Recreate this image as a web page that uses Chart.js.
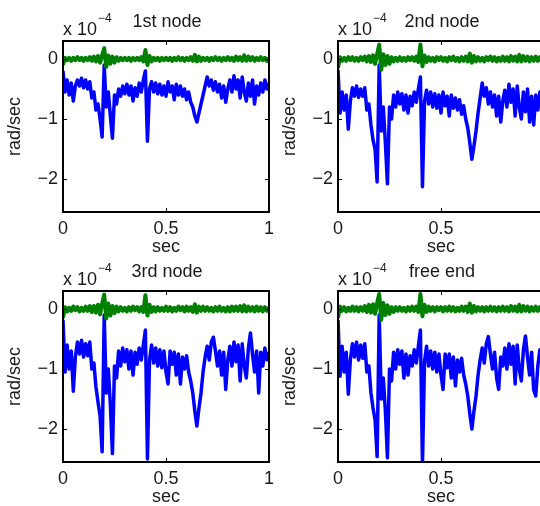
<!DOCTYPE html>
<html>
<head>
<meta charset="utf-8">
<script src="https://cdn.jsdelivr.net/npm/chart.js@4.4.1/dist/chart.umd.min.js"></script>
<style>
  html, body { margin: 0; padding: 0; background: #fff; overflow: hidden; width: 540px; height: 506px; }
  .panel { position: absolute; }
</style>
</head>
<body>
<div class="panel" style="left:0;top:0"><canvas id="chart1" width="280" height="258"></canvas></div>
<div class="panel" style="left:275px;top:0"><canvas id="chart2" width="280" height="258"></canvas></div>
<div class="panel" style="left:0;top:250px"><canvas id="chart3" width="280" height="258"></canvas></div>
<div class="panel" style="left:275px;top:250px"><canvas id="chart4" width="280" height="258"></canvas></div>
<script>
// tick positions of every panel
const xTicks = [0, 0.5, 1];
const yTicks = [-2, -1, 0];

// sample times, 0 .. 1 sec
const times = Array.from({ length: 101 }, (_, i) => i / 100);

// blue traces (x 10^-4 rad/sec)
const blueNode1 = [
  -0.20, -0.55, -0.35, -0.60, -0.40, -0.70, -0.45, -0.35, -0.45, -0.32,
  -0.48, -0.35, -0.50, -0.38, -0.65, -0.55, -0.85, -0.75, -1.00, -1.30,
  -0.10, -0.80, -0.55, -0.95, -1.32, -0.60, -0.75, -0.50, -0.62, -0.45,
  -0.58, -0.42, -0.60, -0.45, -0.70, -0.48, -0.62, -0.40, -0.55, -0.35,
  -0.20, -1.37, -0.50, -0.38, -0.55, -0.40, -0.58, -0.42, -0.60, -0.45,
  -0.62, -0.38, -0.55, -0.45, -0.68, -0.42, -0.60, -0.45, -0.62, -0.50,
  -0.68, -0.55, -0.72, -0.80, -0.95, -1.05, -0.90, -0.75, -0.60, -0.45,
  -0.30, -0.45, -0.35, -0.52, -0.38, -0.55, -0.42, -0.65, -0.45, -0.72,
  -0.50, -0.35, -0.55, -0.28, -0.50, -0.35, -0.65, -0.30, -0.55, -0.70,
  -0.40, -0.62, -0.35, -0.75, -0.45, -0.60, -0.40, -0.55, -0.35, -0.50,
  -0.40
];
const blueNode2 = [
  -0.18, -0.90, -0.55, -0.85, -0.60, -1.17, -0.70, -0.48, -0.62, -0.45,
  -0.64, -0.50, -0.62, -0.48, -0.85, -0.75, -1.10, -1.35, -1.50, -2.05,
  -0.10, -1.20, -0.80, -1.40, -2.08, -0.80, -1.00, -0.60, -0.80, -0.55,
  -0.75, -0.58, -0.85, -0.60, -0.90, -0.62, -0.78, -0.55, -0.72, -0.50,
  -0.30, -2.13, -0.70, -0.52, -0.75, -0.55, -0.80, -0.58, -0.82, -0.60,
  -0.90, -0.55, -0.78, -0.62, -0.95, -0.60, -0.82, -0.65, -0.85, -0.68,
  -0.92, -0.78, -1.00, -1.15, -1.40, -1.67, -1.45, -1.20, -0.90, -0.65,
  -0.40, -0.62, -0.48, -0.75, -0.55, -0.80, -0.60, -0.95, -0.62, -1.05,
  -0.70, -0.52, -0.80, -0.42, -0.72, -0.50, -0.95, -0.45, -0.80, -1.00,
  -0.55, -0.88, -0.50, -1.05, -0.62, -1.10, -0.60, -0.85, -0.55, -0.78,
  -0.62
];
const blueNode3 = [
  -0.18, -1.05, -0.60, -1.00, -0.70, -1.37, -0.80, -0.55, -0.75, -0.52,
  -0.80, -0.58, -0.78, -0.55, -1.00, -0.90, -1.30, -1.55, -1.78, -2.38,
  -0.10, -1.40, -1.00, -1.60, -2.41, -0.95, -1.15, -0.70, -0.95, -0.65,
  -0.88, -0.68, -1.00, -0.70, -1.10, -0.72, -0.92, -0.65, -0.85, -0.60,
  -0.35, -2.50, -0.85, -0.60, -0.90, -0.65, -0.95, -0.68, -0.98, -0.70,
  -1.05, -1.25, -0.70, -0.92, -0.72, -1.10, -0.75, -1.25, -0.80, -1.00,
  -0.78, -1.05, -1.20, -1.40, -1.70, -1.95, -1.65, -1.40, -1.05, -0.80,
  -0.62, -0.85, -0.55, -0.47, -0.70, -0.95, -0.70, -1.10, -0.72, -1.34,
  -0.85, -0.62, -0.95, -0.55, -0.88, -0.60, -1.20, -0.58, -0.95, -1.15,
  -0.65, -0.40, -0.75, -1.05, -0.70, -1.40, -0.72, -0.95, -0.65, -0.85,
  -0.72
];
const blueFreeEnd = [
  -0.18, -1.12, -0.62, -1.05, -0.72, -1.42, -0.85, -0.58, -0.80, -0.55,
  -0.85, -0.60, -0.82, -0.58, -1.05, -0.95, -1.40, -1.65, -1.85, -2.46,
  -0.10, -1.50, -1.15, -1.70, -2.48, -1.00, -1.20, -0.72, -1.00, -0.68,
  -0.92, -0.70, -1.15, -0.75, -1.10, -0.78, -0.95, -0.68, -0.90, -0.62,
  -0.35, -2.60, -0.88, -0.62, -0.95, -0.70, -1.00, -0.72, -1.05, -0.75,
  -1.10, -1.34, -0.75, -0.98, -0.75, -1.15, -0.80, -1.28, -0.85, -1.05,
  -0.82, -1.10, -1.25, -1.45, -1.75, -2.00, -1.70, -1.45, -1.10, -0.85,
  -0.65, -0.90, -0.58, -0.46, -0.75, -1.00, -0.72, -1.15, -1.34, -0.80,
  -0.95, -0.65, -1.00, -0.58, -0.92, -0.62, -1.25, -0.60, -1.00, -1.20,
  -0.68, -0.45, -0.80, -1.10, -0.72, -1.35, -1.45, -0.95, -0.68, -0.90,
  -0.75
];

// green traces
const greenNode1 = [
  -0.10, 0.02, -0.02, 0.02, -0.03, 0.02, -0.02, 0.03, -0.02, 0.02,
  -0.03, 0.02, -0.02, 0.03, -0.03, 0.04, -0.04, 0.05, -0.06, 0.06,
  0.18, -0.13, 0.06, -0.08, 0.04, -0.06, 0.03, -0.03, 0.02, -0.02,
  0.02, -0.02, 0.02, -0.03, 0.02, -0.02, 0.02, -0.02, 0.03, -0.04,
  0.15, -0.10, 0.05, -0.04, 0.02, -0.02, 0.02, -0.03, 0.02, -0.02,
  0.02, -0.02, 0.02, -0.03, 0.02, -0.02, 0.03, -0.02, 0.02, -0.03,
  0.02, -0.02, 0.03, -0.03, 0.07, -0.04, 0.04, -0.03, 0.02, -0.02,
  0.02, -0.03, 0.02, -0.02, 0.03, -0.02, 0.02, -0.03, 0.02, -0.02,
  0.03, -0.02, 0.02, -0.03, 0.04, -0.02, 0.03, -0.03, 0.06, -0.03,
  0.04, -0.02, 0.03, -0.03, 0.02, -0.02, 0.03, -0.02, 0.02, -0.03,
  0.02
];
const greenNode2 = [
  -0.15, 0.03, -0.03, 0.02, -0.03, 0.03, -0.02, 0.03, -0.03, 0.02,
  -0.03, 0.03, -0.02, 0.04, -0.04, 0.05, -0.05, 0.06, -0.08, 0.08,
  0.24, -0.18, 0.08, -0.10, 0.05, -0.08, 0.03, -0.04, 0.02, -0.03,
  0.03, -0.03, 0.02, -0.03, 0.03, -0.02, 0.03, -0.03, 0.04, -0.05,
  0.24, -0.12, 0.06, -0.05, 0.03, -0.03, 0.02, -0.04, 0.03, -0.02,
  0.03, -0.03, 0.02, -0.04, 0.03, -0.02, 0.04, -0.03, 0.02, -0.04,
  0.03, -0.03, 0.04, -0.04, 0.09, -0.06, 0.05, -0.04, 0.03, -0.03,
  0.02, -0.04, 0.03, -0.02, 0.04, -0.03, 0.03, -0.04, 0.02, -0.03,
  0.04, -0.03, 0.03, -0.04, 0.05, -0.03, 0.04, -0.04, 0.07, -0.04,
  0.05, -0.03, 0.04, -0.04, 0.03, -0.03, 0.04, -0.03, 0.03, -0.04,
  0.02
];
const greenNode3 = [
  -0.15, 0.03, -0.04, 0.02, -0.03, 0.04, -0.02, 0.03, -0.04, 0.02,
  -0.03, 0.04, -0.03, 0.05, -0.05, 0.05, -0.06, 0.07, -0.09, 0.09,
  0.24, -0.16, 0.09, -0.11, 0.05, -0.07, 0.04, -0.04, 0.03, -0.03,
  0.02, -0.04, 0.03, -0.03, 0.04, -0.02, 0.03, -0.04, 0.03, -0.05,
  0.23, -0.11, 0.07, -0.05, 0.03, -0.04, 0.03, -0.03, 0.02, -0.03,
  0.04, -0.03, 0.03, -0.04, 0.02, -0.03, 0.04, -0.02, 0.03, -0.04,
  0.04, -0.03, 0.03, -0.05, 0.08, -0.06, 0.04, -0.03, 0.04, -0.03,
  0.03, -0.03, 0.02, -0.04, 0.03, -0.03, 0.04, -0.03, 0.02, -0.04,
  0.03, -0.04, 0.04, -0.03, 0.04, -0.03, 0.05, -0.04, 0.06, -0.04,
  0.04, -0.03, 0.03, -0.04, 0.04, -0.03, 0.03, -0.04, 0.03, -0.03,
  0.03
];
const greenFreeEnd = [
  -0.15, 0.04, -0.03, 0.03, -0.04, 0.02, -0.03, 0.04, -0.03, 0.03,
  -0.04, 0.03, -0.03, 0.05, -0.05, 0.07, -0.06, 0.08, -0.08, 0.10,
  0.25, -0.18, 0.10, -0.10, 0.06, -0.08, 0.03, -0.05, 0.03, -0.03,
  0.03, -0.03, 0.02, -0.04, 0.03, -0.03, 0.04, -0.03, 0.04, -0.05,
  0.25, -0.12, 0.07, -0.05, 0.04, -0.03, 0.03, -0.04, 0.03, -0.02,
  0.03, -0.04, 0.03, -0.03, 0.04, -0.03, 0.03, -0.04, 0.02, -0.03,
  0.04, -0.03, 0.04, -0.05, 0.09, -0.06, 0.05, -0.04, 0.03, -0.03,
  0.03, -0.04, 0.03, -0.03, 0.04, -0.03, 0.03, -0.04, 0.03, -0.03,
  0.04, -0.03, 0.03, -0.04, 0.05, -0.03, 0.04, -0.04, 0.07, -0.04,
  0.05, -0.03, 0.04, -0.04, 0.03, -0.03, 0.04, -0.03, 0.03, -0.04,
  0.02
];

const FONT = '"Liberation Sans", Arial, Helvetica, sans-serif';
const TEXT = '#1a1a1a';
const FS = 18;

// matlab style box, inner ticks, title and the exponent note
const matlabFrame = {
  id: 'matlabFrame',
  afterDraw(chart, args, opts) {
    const ctx = chart.ctx;
    const a = chart.chartArea;
    const xs = chart.scales.x;
    const ys = chart.scales.y;
    ctx.save();
    ctx.strokeStyle = '#000';
    ctx.lineWidth = 1;
    ctx.beginPath();
    xTicks.forEach((v) => {
      const px = Math.round(xs.getPixelForValue(v)) + 0.5;
      ctx.moveTo(px, a.bottom); ctx.lineTo(px, a.bottom - 4);
      ctx.moveTo(px, a.top); ctx.lineTo(px, a.top + 4);
    });
    yTicks.forEach((v) => {
      const py = Math.round(ys.getPixelForValue(v)) + 0.5;
      ctx.moveTo(a.left, py); ctx.lineTo(a.left + 4, py);
      ctx.moveTo(a.right, py); ctx.lineTo(a.right - 4, py);
    });
    ctx.stroke();
    ctx.lineWidth = 2;
    ctx.strokeRect(a.left, a.top, a.right - a.left, a.bottom - a.top);

    ctx.fillStyle = TEXT;
    ctx.font = FS + 'px ' + FONT;
    ctx.textBaseline = 'alphabetic';
    ctx.textAlign = 'center';
    ctx.fillText(opts.title, (a.left + a.right) / 2 + 1, 27);
    ctx.textAlign = 'left';
    ctx.fillText('x 10', a.left, 35);
    const w = ctx.measureText('x 10').width;
    ctx.font = '12px ' + FONT;
    ctx.fillText('\u22124', a.left + w + 1, 22);
    ctx.restore();
  }
};

function minusLabel(v) {
  if (v < 0) return '\u2212' + Math.abs(v);
  return String(v);
}

function drawPanel(canvasId, title, blue, green) {
  const ctx = document.getElementById(canvasId).getContext('2d');
  new Chart(ctx, {
    type: 'line',
    data: {
      datasets: [
        {
          data: green.map((v, i) => ({ x: times[i], y: v })),
          borderColor: 'rgb(0, 128, 0)',
          borderWidth: 4,
          borderJoinStyle: 'round',
          pointRadius: 0,
          tension: 0
        },
        {
          data: blue.map((v, i) => ({ x: times[i], y: v })),
          borderColor: 'rgb(0, 0, 255)',
          borderWidth: 3.5,
          borderJoinStyle: 'round',
          pointRadius: 0,
          tension: 0
        }
      ]
    },
    options: {
      responsive: false,
      animation: false,
      layout: { padding: { top: 41, right: 10, left: 0, bottom: 0 } },
      plugins: {
        legend: { display: false },
        tooltip: { enabled: false },
        matlabFrame: { title: title }
      },
      scales: {
        x: {
          type: 'linear',
          min: 0,
          max: 1,
          grid: { display: false, drawTicks: false },
          border: { display: false },
          afterBuildTicks: (scale) => { scale.ticks = xTicks.map((v) => ({ value: v })); },
          afterFit: (scale) => { scale.height = 46; },
          ticks: {
            color: TEXT,
            padding: 6,
            maxRotation: 0,
            font: { family: FONT, size: FS },
            callback: (v) => String(v)
          },
          title: {
            display: true,
            text: 'sec',
            color: TEXT,
            padding: 0,
            font: { family: FONT, size: FS }
          }
        },
        y: {
          type: 'linear',
          min: -2.55,
          max: 0.3,
          grid: { display: false, drawTicks: false },
          border: { display: false },
          afterBuildTicks: (scale) => { scale.ticks = yTicks.map((v) => ({ value: v })); },
          afterFit: (scale) => { scale.width = 63; },
          ticks: {
            color: TEXT,
            padding: 5,
            font: { family: FONT, size: FS },
            callback: minusLabel
          },
          title: {
            display: true,
            text: 'rad/sec',
            color: TEXT,
            padding: { top: 4, bottom: 0 },
            font: { family: FONT, size: FS }
          }
        }
      }
    },
    plugins: [matlabFrame]
  });
}

drawPanel('chart1', '1st node', blueNode1, greenNode1);
drawPanel('chart2', '2nd node', blueNode2, greenNode2);
drawPanel('chart3', '3rd node', blueNode3, greenNode3);
drawPanel('chart4', 'free end', blueFreeEnd, greenFreeEnd);
</script>
</body>
</html>
